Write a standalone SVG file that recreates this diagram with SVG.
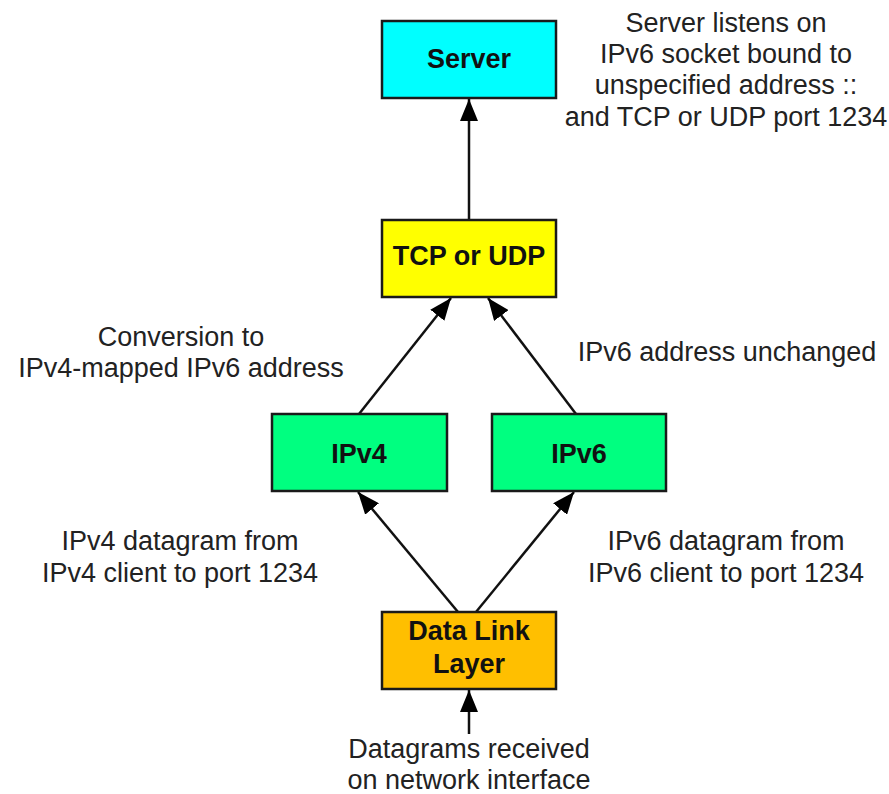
<svg xmlns="http://www.w3.org/2000/svg" width="889" height="794" viewBox="0 0 889 794">
  <defs>
    <marker id="arrow" viewBox="0 0 22 18" refX="22" refY="9" markerWidth="22" markerHeight="18" markerUnits="userSpaceOnUse" orient="auto">
      <path d="M0,0 L22,9 L0,18 Z" fill="#000"/>
    </marker>
    <style>
      .box { stroke: #1a1a1a; stroke-width: 2.5; }
      .lbl { font-family: "Liberation Sans", Arial, sans-serif; font-size: 27px; font-weight: bold; fill: #111; text-anchor: middle; }
      .note { font-family: "Liberation Sans", Arial, sans-serif; font-size: 27px; fill: #222; text-anchor: middle; }
      .edge { stroke: #111; stroke-width: 2.5; fill: none; marker-end: url(#arrow); }
    </style>
  </defs>
  <rect width="889" height="794" fill="#fff"/>

  <g id="connectors">
    <line class="edge" x1="469" y1="220" x2="469" y2="99"/>
    <line class="edge" x1="359" y1="414" x2="451" y2="298"/>
    <line class="edge" x1="576" y1="414" x2="488" y2="298"/>
    <line class="edge" x1="458" y1="612" x2="358" y2="492"/>
    <line class="edge" x1="476" y1="612" x2="574" y2="492"/>
    <line class="edge" x1="469" y1="734" x2="469" y2="690"/>
  </g>

  <g id="server">
    <rect class="box" x="382" y="21" width="174" height="77" fill="#00FFFF"/>
    <text class="lbl" x="469" y="68">Server</text>
  </g>

  <g id="transport">
    <rect class="box" x="382" y="220" width="174" height="77" fill="#FFFF00"/>
    <text class="lbl" x="469" y="265">TCP or UDP</text>
  </g>

  <g id="ipv4">
    <rect class="box" x="272" y="414" width="175" height="77" fill="#00FF80"/>
    <text class="lbl" x="359" y="463">IPv4</text>
  </g>

  <g id="ipv6">
    <rect class="box" x="492" y="414" width="174" height="77" fill="#00FF80"/>
    <text class="lbl" x="579" y="463">IPv6</text>
  </g>

  <g id="datalink">
    <rect class="box" x="382" y="612" width="174" height="77" fill="#FFBF00"/>
    <text class="lbl" x="469" y="640">Data Link</text>
    <text class="lbl" x="469" y="673">Layer</text>
  </g>

  <g id="notes">
    <text class="note" x="726" y="32">Server listens on</text>
    <text class="note" x="726" y="63">IPv6 socket bound to</text>
    <text class="note" x="726" y="94">unspecified address ::</text>
    <text class="note" x="726" y="126">and TCP or UDP port 1234</text>

    <text class="note" x="181" y="346">Conversion to</text>
    <text class="note" x="181" y="377">IPv4-mapped IPv6 address</text>

    <text class="note" x="727" y="361">IPv6 address unchanged</text>

    <text class="note" x="180" y="550">IPv4 datagram from</text>
    <text class="note" x="180" y="582">IPv4 client to port 1234</text>

    <text class="note" x="726" y="550">IPv6 datagram from</text>
    <text class="note" x="726" y="582">IPv6 client to port 1234</text>

    <text class="note" x="469" y="758">Datagrams received</text>
    <text class="note" x="469" y="789">on network interface</text>
  </g>
</svg>
